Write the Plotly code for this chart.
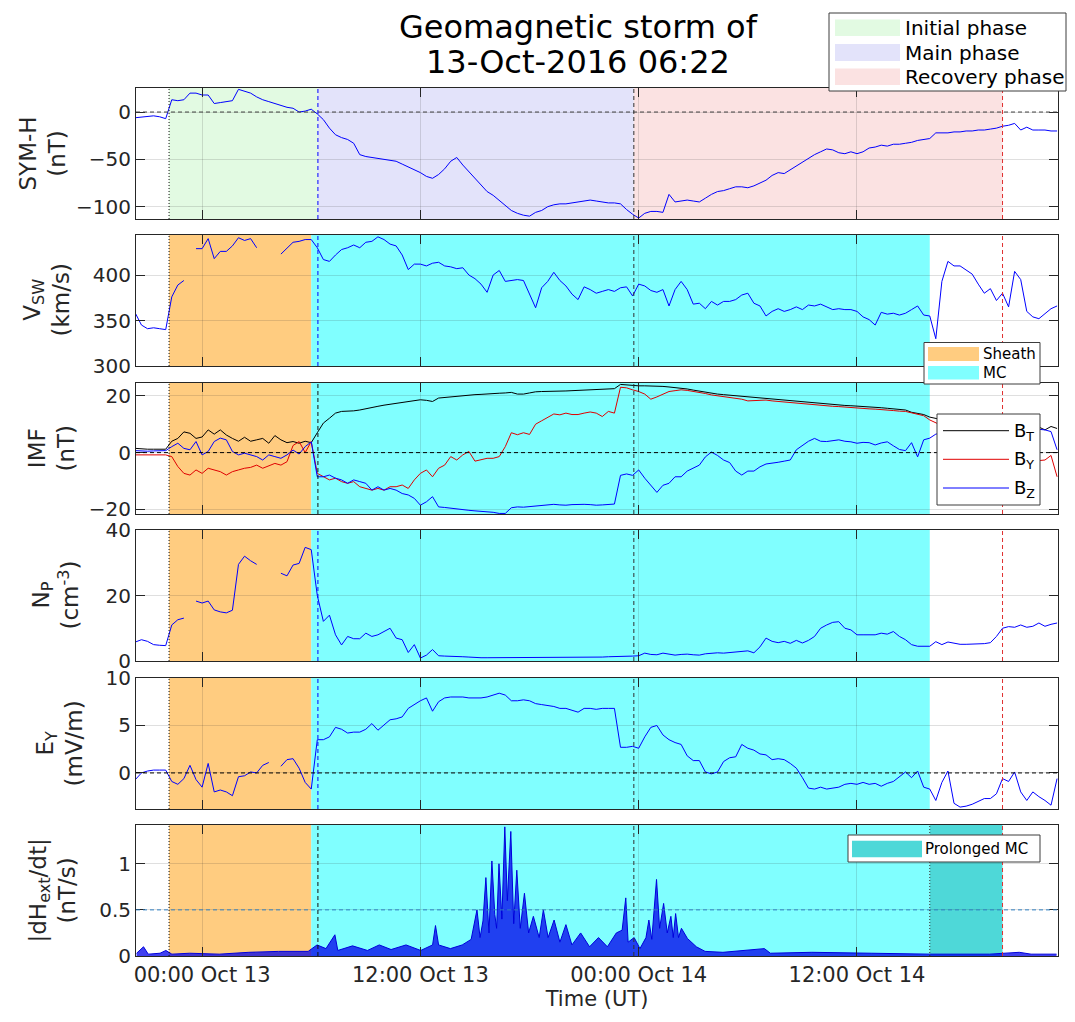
import pandas as pd
import plotly.graph_objects as go

# ---------------- data ----------------
T_START = "2016-10-12 20:20"      # 20-min sampling grid
N_SAMPLES = 153

SYMH = [-6, -5.5, -5, -4, -5, -7, 13, 12, 13, 20,
        20, 18, 18, 9, 10, 11, 12, 24, 22, 20,
        16, 13, 11, 9, 7, 5, 4, 0, 1, 3,
        -2, -8, -17, -24, -27, -29, -33, -45, -47, -48,
        -49, -50, -51, -52, -55, -58, -61, -64, -68, -70,
        -66, -60, -52, -48, -56, -63, -70, -78, -84, -88,
        -93, -98, -104, -107, -109, -110, -106, -104, -100, -98,
        -97, -97, -96, -95, -94, -93, -94, -95, -96, -96,
        -97, -103, -108, -112, -107, -105, -105, -106, -87, -95,
        -94, -93, -94, -95, -91, -87, -84, -83, -81, -79,
        -79, -80, -78, -75, -72, -67, -64, -65, -61, -57,
        -53, -49, -45, -42, -39, -40, -43, -44, -42, -44,
        -42, -38, -37, -35, -36, -34, -34, -33, -32, -30,
        -29, -28, -22, -22, -22, -21, -21, -20, -20, -19,
        -19, -18, -17, -15, -14, -12, -19, -16, -19, -19,
        -19, -20, -20]

VSW = [358, 345, 341, 342, 341, 340, 376, 389, 394, None,
       429, 429, 440, 418, 426, 426, 432, 441, 438, 440,
       430, None, 433, None, 423, 430, 436, 437, 439, 439,
       430, 417, 415, 422, 428, 430, 433, 430, 436, 437,
       442, 439, 434, 432, 422, 406, 412, 412, 410, 413,
       414, 410, 409, 407, 408, 400, 396, 390, 381, 400,
       405, 393, 394, 395, 394, 378, 364, 386, 393, 403,
       394, 388, 379, 373, 387, 384, 380, 382, 384, 382,
       386, 387, 377, 390, 388, 383, 381, 384, 366, 384,
       393, 384, 368, 369, 363, 371, 367, 371, 371, 373,
       378, 380, 369, 366, 355, 360, 363, 360, 362, 365,
       362, 367, 366, 368, 365, 362, 363, 362, 362, 360,
       354, 351, 345, 359, 357, 358, 356, 358, 362, 366,
       356, 355, 330, 393, 415, 410, 410, 405, 401, 390,
       380, 385, 372, 380, 365, 404, 395, 360, 354, 352,
       358, 363, 366]

BT = [1.5, 1.3, 1.2, 1.2, 1.2, 1.2, 4.0, 5.0, 7.3, 6.8,
      5.0, 5.5, 8.0, 6.5, 8.0, 6.2, 5.0, 4.0, 5.4, 4.0,
      4.5, 5.0, 3.3, 6.0, 4.5, 3.5, 3.9, 3.3, 4.0, 3.5,
      7.0, 10.4, 12.1, 13.9, 14.5, 14.5, 14.7, 15.0, 15.5, 16.0,
      16.3, 16.7, 17.0, 17.3, 17.6, 18.0, 18.3, 18.6, 18.4, 18.0,
      19.2, 19.4, 19.8, 19.8, 20.0, 20.2, 20.4, 20.5, 20.7, 20.7,
      20.9, 21.0, 21.2, 20.6, 20.6, 21.0, 21.4, 21.5, 21.5, 21.5,
      21.6, 21.7, 21.8, 21.9, 21.9, 22.0, 22.1, 22.2, 22.3, 22.5,
      24.0, 23.8, 23.5, 23.5, 23.5, 23.5, 23.4, 23.3, 23.1, 22.9,
      22.6, 22.4, 22.0, 21.6, 21.2, 20.8, 20.6, 20.4, 20.2, 20.0,
      19.8, 19.6, 19.4, 19.2, 19.0, 18.9, 18.7, 18.4, 18.2, 18.0,
      17.8, 17.6, 17.4, 17.2, 17.0, 16.9, 16.8, 16.6, 16.5, 16.4,
      16.3, 16.1, 16.0, 15.8, 15.6, 15.4, 15.2, 15.0, 14.2, 13.8,
      13.4, 12.5, 12.0, 11.5, 11.0, 10.5, 10.2, 10.0, 9.8, 9.6,
      9.5, 9.4, 9.4, 9.3, 9.3, 9.2, 9.2, 9.2, 9.2, 9.0,
      8.0, 9.2, 8.5]

BY = [-0.8, -0.8, -0.9, -0.9, -0.8, -0.8, -1.4, -4.9, -7.3, -7.9,
      -6.1, -7.3, -5.5, -6.1, -6.7, -7.9, -6.7, -6.1, -5.5, -5.2,
      -4.4, -5.5, -4.7, -3.8, -4.4, -3.2, 2.5, 3.9, 0.0, 3.9,
      -7.3, -8.5, -9.6, -9.0, -10.2, -10.8, -10.2, -12.0, -12.6, -13.2,
      -12.6, -13.2, -12.0, -12.0, -11.4, -12.6, -9.6, -7.3, -6.1, -8.5,
      -5.5, -4.4, -1.4, -2.6, -0.8, 0.4, -3.0, -2.6, -2.0, -2.0,
      -1.4, 2.1, 7.0, 6.3, 7.0, 6.4, 10.0, 11.2, 12.5, 13.6,
      13.3, 13.9, 13.4, 13.4, 13.9, 14.3, 13.9, 12.7, 14.5, 13.9,
      23.0, 22.8, 22.1, 21.5, 20.6, 18.8, 19.6, 20.6, 21.5, 21.8,
      22.1, 21.9, 21.6, 21.2, 20.8, 20.3, 20.0, 19.8, 19.5, 19.0,
      18.8, 18.2, 18.3, 18.6, 18.5, 18.2, 18.0, 17.8, 17.6, 17.4,
      17.2, 16.9, 16.7, 16.6, 16.4, 16.3, 16.2, 16.0, 15.8, 15.6,
      15.5, 15.4, 15.3, 15.2, 15.0, 14.8, 14.6, 14.5, 14.0, 13.4,
      13.0, 11.5, 10.5, 9.5, 8.5, 7.5, 7.0, 6.5, 6.0, 5.0,
      4.0, 3.0, 2.0, 1.0, 0.0, -1.0, -2.0, -2.5, -3.0, -2.8,
      -2.6, -1.0, -8.5]

BZ = [0.7, 0.5, 0.5, 0.6, 0.6, 0.7, 2.1, 3.3, 1.5, 1.0,
      3.9, -0.8, 0.4, 3.9, 5.1, 4.5, 0.4, -0.8, -0.2, -0.8,
      -1.4, -2.6, -0.8, -1.4, -2.0, -0.8, 0.9, -0.5, 2.1, 3.8,
      -8.5, -8.5, -7.9, -9.0, -9.6, -10.8, -9.6, -10.2, -10.8, -13.2,
      -12.0, -13.2, -12.6, -13.2, -14.4, -14.9, -16.1, -18.5, -17.3, -15.5,
      -19.1, -19.3, -19.6, -19.9, -20.2, -20.3, -20.5, -20.6, -20.8, -21.0,
      -21.4, -21.4, -19.4, -19.1, -19.2, -19.0, -18.7, -18.5, -18.4, -18.2,
      -18.4, -18.5, -18.3, -18.2, -18.2, -18.3, -18.5, -18.4, -18.2, -18.1,
      -8.0, -7.5, -8.0, -6.1, -9.0, -11.5, -14.0, -11.5, -10.8, -8.5,
      -8.5, -6.5, -5.5, -4.4, -1.5, 0.2, -1.0, -2.6, -3.5, -6.5,
      -7.9, -6.5, -6.5, -5.0, -4.0, -3.8, -3.4, -3.0, -2.6, 1.0,
      2.5, 4.0, 5.0, 4.0, 3.9, 4.2, 4.5, 4.0, 3.8, 3.3,
      3.6, 3.5, 2.7, 3.4, 3.8, 2.4, 1.1, 0.7, 3.5, -1.5,
      4.5, 5.1, 6.5, 7.0, 7.5, 7.5, 7.6, 7.8, 7.5, 7.8,
      8.0, 7.8, 8.0, 8.2, 8.0, 8.2, 8.0, 8.3, 8.0, 8.2,
      8.0, 7.4, 1.0]

NP = [5.8, 6.5, 6.0, 5.0, 4.8, 4.7, 11.0, 12.6, 13.1, None,
      18.3, 17.7, 18.3, 15.6, 15.0, 14.7, 15.5, 29.5, 32.0, 30.6,
      29.5, None, 22.0, None, 26.8, 26.0, 29.3, 29.8, 34.7, 34.0,
      20.0, 12.1, 14.0, 8.0, 4.9, 7.5, 6.8, 6.8, 8.5, 7.5,
      8.0, 9.0, 10.0, 7.0, 6.5, 2.6, 5.0, 0.9, 1.8, 3.5,
      1.6, 1.5, 1.5, 1.4, 1.3, 1.2, 1.0, 1.0, 1.0, 1.0,
      1.0, 1.1, 1.1, 1.1, 1.2, 1.2, 1.2, 1.2, 1.2, 1.2,
      1.1, 1.0, 1.0, 1.1, 1.2, 1.2, 1.2, 1.2, 1.3, 1.3,
      1.3, 1.4, 1.5, 1.6, 2.4, 2.0, 1.9, 2.4, 2.0, 1.8,
      2.0, 2.1, 1.9, 1.8, 2.2, 2.4, 2.5, 2.4, 2.6, 2.7,
      3.0, 3.1, 2.5, 4.3, 7.0, 6.0, 5.6, 6.0, 5.4, 6.3,
      5.5, 6.3, 7.5, 10.0, 11.0, 11.8, 12.0, 10.0, 9.5, 8.0,
      8.0, 8.0, 8.0, 8.5, 8.2, 9.0, 7.5, 6.5, 5.0, 4.5,
      4.4, 4.5, 5.9, 5.0, 5.8, 5.4, 5.1, 5.1, 5.1, 5.2,
      5.3, 5.6, 7.5, 10.0, 10.5, 10.3, 11.0, 10.3, 10.6, 11.6,
      10.6, 11.2, 11.6]

EY = [-0.7, 0.0, 0.2, 0.3, 0.3, 0.3, -0.9, -1.2, -0.6, 0.8,
      -0.7, -1.5, 1.0, -2.0, -1.8, -2.0, -2.4, -0.4, -0.3, 0.1,
      0.0, 0.8, 1.1, None, 0.7, 1.4, 1.5, 0.5, -1.0, -1.7,
      3.5, 3.5, 3.8, 4.8, 4.6, 4.2, 4.3, 4.3, 4.6, 5.2,
      4.5, 5.1, 5.6, 5.7, 5.9, 6.8, 7.2, 7.6, 7.9, 6.5,
      7.5, 7.9, 8.0, 8.0, 8.0, 7.9, 7.9, 7.9, 8.0, 8.2,
      8.4, 8.2, 7.6, 7.6, 7.7, 7.6, 7.3, 7.2, 7.1, 7.0,
      6.8, 6.8, 6.6, 6.4, 6.8, 6.8, 6.7, 6.8, 6.8, 6.8,
      2.7, 2.7, 2.8, 2.6, 3.8, 4.8, 5.0, 4.0, 3.5, 3.2,
      3.0, 1.8, 1.3, 1.3, 0.1, -0.1, 0.1, 1.2, 1.6, 1.7,
      3.0, 2.6, 2.4, 2.0, 1.9, 1.4, 1.5, 1.4, 1.0, 0.5,
      -0.5, -1.6, -1.7, -1.5, -1.7, -1.6, -1.5, -1.2, -1.1, -1.2,
      -1.0, -1.2, -1.1, -1.4, -1.1, -0.9, -0.4, 0.1, -0.5, 0.2,
      -1.5, -1.7, -2.9, -1.0, 0.2, -3.2, -3.6, -3.5, -3.3, -3.0,
      -2.7, -2.7, -2.2, -0.6, -0.9, 0.1, -2.0, -2.9, -2.0, -2.5,
      -2.9, -3.4, -0.6]

# |dH_ext/dt| : hours after 2016-10-13 00:00 and values (nT/s)
DH_HOURS = [-3.6, -3.22, -2.96, -2.31, -1.99, -1.66, -0.68, 0.94, 2.57, 4.2,
            5.83, 6.32, 6.81, 7.3, 7.46, 8.27, 9.09, 9.74, 10.39, 11.21,
            12.02, 12.67, 12.83, 13.0, 13.65, 14.3, 14.79, 14.95, 15.11, 15.28,
            15.44, 15.6, 15.77, 15.93, 16.09, 16.19, 16.32, 16.48, 16.64, 16.78,
            16.97, 17.13, 17.3, 17.49, 17.72, 17.95, 18.21, 18.53, 18.76, 19.02,
            19.35, 19.67, 20.0, 20.33, 20.81, 21.3, 21.79, 22.28, 22.77, 23.09,
            23.29, 23.42, 23.75, 24.07, 24.4, 24.56, 24.72, 24.98, 25.15, 25.37,
            25.57, 25.77, 25.9, 26.03, 26.19, 26.35, 26.68, 27.17, 27.65, 28.63,
            30.91, 31.24, 33.52, 36.78, 40.03, 43.29, 44.92, 45.57, 46.97]
DH_VALS = [0.03, 0.10, 0.02, 0.03, 0.06, 0.02, 0.03, 0.02, 0.04, 0.05,
           0.05, 0.12, 0.08, 0.23, 0.06, 0.11, 0.06, 0.12, 0.07, 0.12,
           0.06, 0.12, 0.33, 0.12, 0.08, 0.12, 0.18, 0.35, 0.50, 0.20,
           0.38, 0.85, 0.25, 1.03, 0.45, 0.30, 1.00, 0.40, 1.40, 0.60,
           1.35, 0.35, 0.93, 0.30, 0.68, 0.25, 0.43, 0.20, 0.50, 0.20,
           0.39, 0.15, 0.34, 0.12, 0.25, 0.10, 0.20, 0.10, 0.25, 0.28,
           0.63, 0.15, 0.20, 0.08, 0.20, 0.39, 0.18, 0.83, 0.30, 0.57,
           0.25, 0.43, 0.20, 0.46, 0.20, 0.30, 0.19, 0.10, 0.05, 0.04,
           0.08, 0.03, 0.04, 0.03, 0.02, 0.02, 0.04, 0.02, 0.02]
DH_REF = "2016-10-13 00:00"

# event times
SHOCK = "2016-10-12 22:11"
SHEATH_END = "2016-10-13 06:00"
STORM = "2016-10-13 06:22"
MAIN_END = "2016-10-13 23:44"
MC_END = "2016-10-14 16:00"
REC_END = "2016-10-14 20:00"
X_RANGE = ["2016-10-12 20:22", "2016-10-14 23:03"]

TICK_TIMES = ["2016-10-13 00:00", "2016-10-13 12:00", "2016-10-14 00:00", "2016-10-14 12:00"]
TICK_LABELS = ["00:00 Oct 13", "12:00 Oct 13", "00:00 Oct 14", "12:00 Oct 14"]

Y_RANGES = [[-113, 25.4], [300, 444], [-21.6, 24.5], [0, 40], [-3.8, 10], [0, 1.42]]
Y_TICKS = [[-100, -50, 0], [300, 350, 400], [-20, 0, 20], [0, 20, 40], [0, 5, 10], [0, 0.5, 1]]
Y_TITLES = ["SYM-H<br>(nT)", "V<sub>SW</sub><br>(km/s)", "IMF<br>(nT)",
            "N<sub>P</sub><br>(cm<sup>-3</sup>)", "E<sub>Y</sub><br>(mV/m)",
            "|dH<sub>ext</sub>/dt|<br>(nT/s)"]

# ---------------- layout geometry (page pixels; page body has an 8px margin) ----------------
OFF = 8
W, H = 1075 - 2 * OFF, 1022 - 2 * OFF
L, R, T, B = 136, 1058, 88, 956           # plot area in page pixels
PANELS = [(88, 219), (235, 366), (383, 514), (530, 661), (678, 809), (825, 956)]
YTITLE_PX = [43, 46, 52, 55, 59, 52]


def px(xp):
    return (xp - L) / (R - L)


def py(yp):
    return (B - yp) / (B - T)


AX = "#262626"
GRID = "rgba(38,38,38,0.15)"
FONT = "DejaVu Sans"

times = pd.date_range(T_START, periods=N_SAMPLES, freq="20min")
dh_times = pd.Timestamp(DH_REF) + pd.to_timedelta(DH_HOURS, unit="h")

fig = go.Figure()
blue = "#0000ff"
fig.add_trace(go.Scatter(x=times, y=SYMH, mode="lines", line=dict(color=blue, width=1), xaxis="x", yaxis="y"))
fig.add_trace(go.Scatter(x=times, y=VSW, mode="lines", line=dict(color=blue, width=1), xaxis="x2", yaxis="y2"))
fig.add_trace(go.Scatter(x=times, y=BT, mode="lines", line=dict(color="#000000", width=1), xaxis="x3", yaxis="y3"))
fig.add_trace(go.Scatter(x=times, y=BY, mode="lines", line=dict(color="#e00000", width=1), xaxis="x3", yaxis="y3"))
fig.add_trace(go.Scatter(x=times, y=BZ, mode="lines", line=dict(color=blue, width=1), xaxis="x3", yaxis="y3"))
fig.add_trace(go.Scatter(x=times, y=NP, mode="lines", line=dict(color=blue, width=1), xaxis="x4", yaxis="y4"))
fig.add_trace(go.Scatter(x=times, y=EY, mode="lines", line=dict(color=blue, width=1), xaxis="x5", yaxis="y5"))
fig.add_trace(go.Scatter(x=dh_times, y=DH_VALS, mode="lines", line=dict(color="#0000dd", width=1),
                         fill="tozeroy", fillcolor="rgba(0,0,235,0.75)", xaxis="x6", yaxis="y6"))

layout = dict(width=W, height=H, margin=dict(l=L - OFF, r=W - (R - OFF), t=T - OFF, b=H - (B - OFF)),
              paper_bgcolor="white", plot_bgcolor="white", showlegend=False,
              font=dict(family=FONT, color=AX, size=20))
for i in range(6):
    n = "" if i == 0 else str(i + 1)
    top, bot = PANELS[i]
    xa = dict(domain=[0, 1], anchor="y" + n, type="date", range=X_RANGE,
              tickvals=TICK_TIMES, ticktext=TICK_LABELS, showticklabels=(i == 5),
              ticks="inside", ticklen=9, tickcolor=AX, showline=True, linecolor=AX, linewidth=1,
              mirror="ticks", showgrid=True, gridcolor=GRID, gridwidth=1, zeroline=False,
              automargin=False, tickfont=dict(size=21, family=FONT, color=AX))
    if i > 0:
        xa["matches"] = "x"
    if i == 5:
        xa["title"] = dict(text="Time (UT)", font=dict(size=21, family=FONT, color=AX), standoff=2)
        xa["ticklabelstandoff"] = 0
    ya = dict(domain=[py(bot), py(top)], anchor="x" + n, range=Y_RANGES[i], tickvals=Y_TICKS[i],
              ticks="inside", ticklen=9, tickcolor=AX, showline=True, linecolor=AX, linewidth=1,
              mirror="ticks", showgrid=True, gridcolor=GRID, gridwidth=1, zeroline=False,
              automargin=False, tickfont=dict(size=20, family=FONT, color=AX), ticklabelstandoff=0)
    layout["xaxis" + n] = xa
    layout["yaxis" + n] = ya
fig.update_layout(**layout)

shapes = []
annotations = []


def vrect(n, x0, x1, color):
    shapes.append(dict(type="rect", xref="x" + n, yref="y" + n + " domain", x0=x0, x1=x1, y0=0, y1=1,
                       fillcolor=color, line=dict(width=0), layer="below"))


def vline(n, x, color, dash):
    shapes.append(dict(type="line", xref="x" + n, yref="y" + n + " domain", x0=x, x1=x, y0=0, y1=1,
                       line=dict(color=color, width=1, dash=dash), layer="above"))


def hline(n, y, color, dash):
    shapes.append(dict(type="line", xref="x" + n + " domain", yref="y" + n, x0=0, x1=1, y0=y, y1=y,
                       line=dict(color=color, width=1, dash=dash), layer="above"))


C_INIT, C_MAIN, C_REC = "#e2fae2", "#e3e3fa", "#fbe2e2"
C_SHEATH, C_MC, C_PMC = "#ffcc80", "#80ffff", "#4ed8d8"
DASH = "4px,3px"
DOT = "1px,2px"

vrect("", SHOCK, STORM, C_INIT)
vrect("", STORM, MAIN_END, C_MAIN)
vrect("", MAIN_END, REC_END, C_REC)
for n in ["2", "3", "4", "5", "6"]:
    vrect(n, SHOCK, SHEATH_END, C_SHEATH)
    vrect(n, SHEATH_END, MC_END, C_MC)
vrect("6", MC_END, REC_END, C_PMC)

hline("", 0, "#404040", DASH)
hline("3", 0, "#000000", DASH)
hline("5", 0, "#000000", DASH)
hline("6", 0.5, "#2f7fc1", DASH)

for i in range(6):
    n = "" if i == 0 else str(i + 1)
    vline(n, SHOCK, "#101010", DOT)
    vline(n, STORM, "#0000ff" if i in (0, 1, 3, 4) else "#101010", DASH)
    vline(n, MAIN_END, "#303030", DASH)
    vline(n, REC_END, "#e03030", DASH)
vline("6", MC_END, "#303030", DOT)

# y-axis titles
for i in range(6):
    top, bot = PANELS[i]
    annotations.append(dict(text=Y_TITLES[i], xref="paper", yref="paper", x=px(YTITLE_PX[i]),
                            y=py((top + bot) / 2), xanchor="center", yanchor="middle", textangle=-90,
                            showarrow=False, font=dict(size=23, family=FONT, color=AX)))

# title
annotations.append(dict(text="Geomagnetic storm of", xref="paper", yref="paper", x=px(578), y=py(27),
                        xanchor="center", yanchor="middle", showarrow=False,
                        font=dict(size=32, family=FONT, color="#000000")))
annotations.append(dict(text="13-Oct-2016 06:22", xref="paper", yref="paper", x=px(578), y=py(62),
                        xanchor="center", yanchor="middle", showarrow=False,
                        font=dict(size=32, family=FONT, color="#000000")))


def legend_box(x0, x1, y0, y1):
    shapes.append(dict(type="rect", xref="paper", yref="paper", x0=px(x0), x1=px(x1), y0=py(y1), y1=py(y0),
                       fillcolor="white", line=dict(color="#3c3c3c", width=1), layer="above"))


def legend_patch(x0, x1, y0, y1, color):
    shapes.append(dict(type="rect", xref="paper", yref="paper", x0=px(x0), x1=px(x1), y0=py(y1), y1=py(y0),
                       fillcolor=color, line=dict(width=0), layer="above"))


def legend_text(x, y, text, size):
    annotations.append(dict(text=text, xref="paper", yref="paper", x=px(x), y=py(y), xanchor="left",
                            yanchor="middle", showarrow=False, font=dict(size=size, family=FONT, color="#000000")))


# legend 1: storm phases
legend_box(829, 1066, 13, 91)
for (y0, y1), c, t in zip([(19.5, 36), (44, 61), (68.5, 85)], [C_INIT, C_MAIN, C_REC],
                          ["Initial phase", "Main phase", "Recovery phase"]):
    legend_patch(835, 900, y0, y1, c)
    legend_text(903, (y0 + y1) / 2, t, 20)

# legend 2: sheath / MC
legend_box(924, 1040, 342.5, 384)
for (y0, y1), c, t in zip([(347, 361), (366, 379.5)], [C_SHEATH, C_MC], ["Sheath", "MC"]):
    legend_patch(928, 979, y0, y1, c)
    legend_text(981, (y0 + y1) / 2, t, 15)

# legend 3: IMF components
legend_box(937, 1040, 414, 505)
for yl, c, t in zip([430.7, 459.3, 488], ["#000000", "#e00000", "#0000ff"],
                    ["B<sub>T</sub>", "B<sub>Y</sub>", "B<sub>Z</sub>"]):
    shapes.append(dict(type="line", xref="paper", yref="paper", x0=px(943), x1=px(1009), y0=py(yl), y1=py(yl),
                       line=dict(color=c, width=1), layer="above"))
    legend_text(1012, yl + 1, t, 18)

# legend 4: prolonged MC
legend_box(848, 1040, 835, 862)
legend_patch(852, 922, 840.7, 857.3, C_PMC)
legend_text(923, 849, "Prolonged MC", 15)

fig.update_layout(shapes=shapes, annotations=annotations)
fig.write_html("out.html")
